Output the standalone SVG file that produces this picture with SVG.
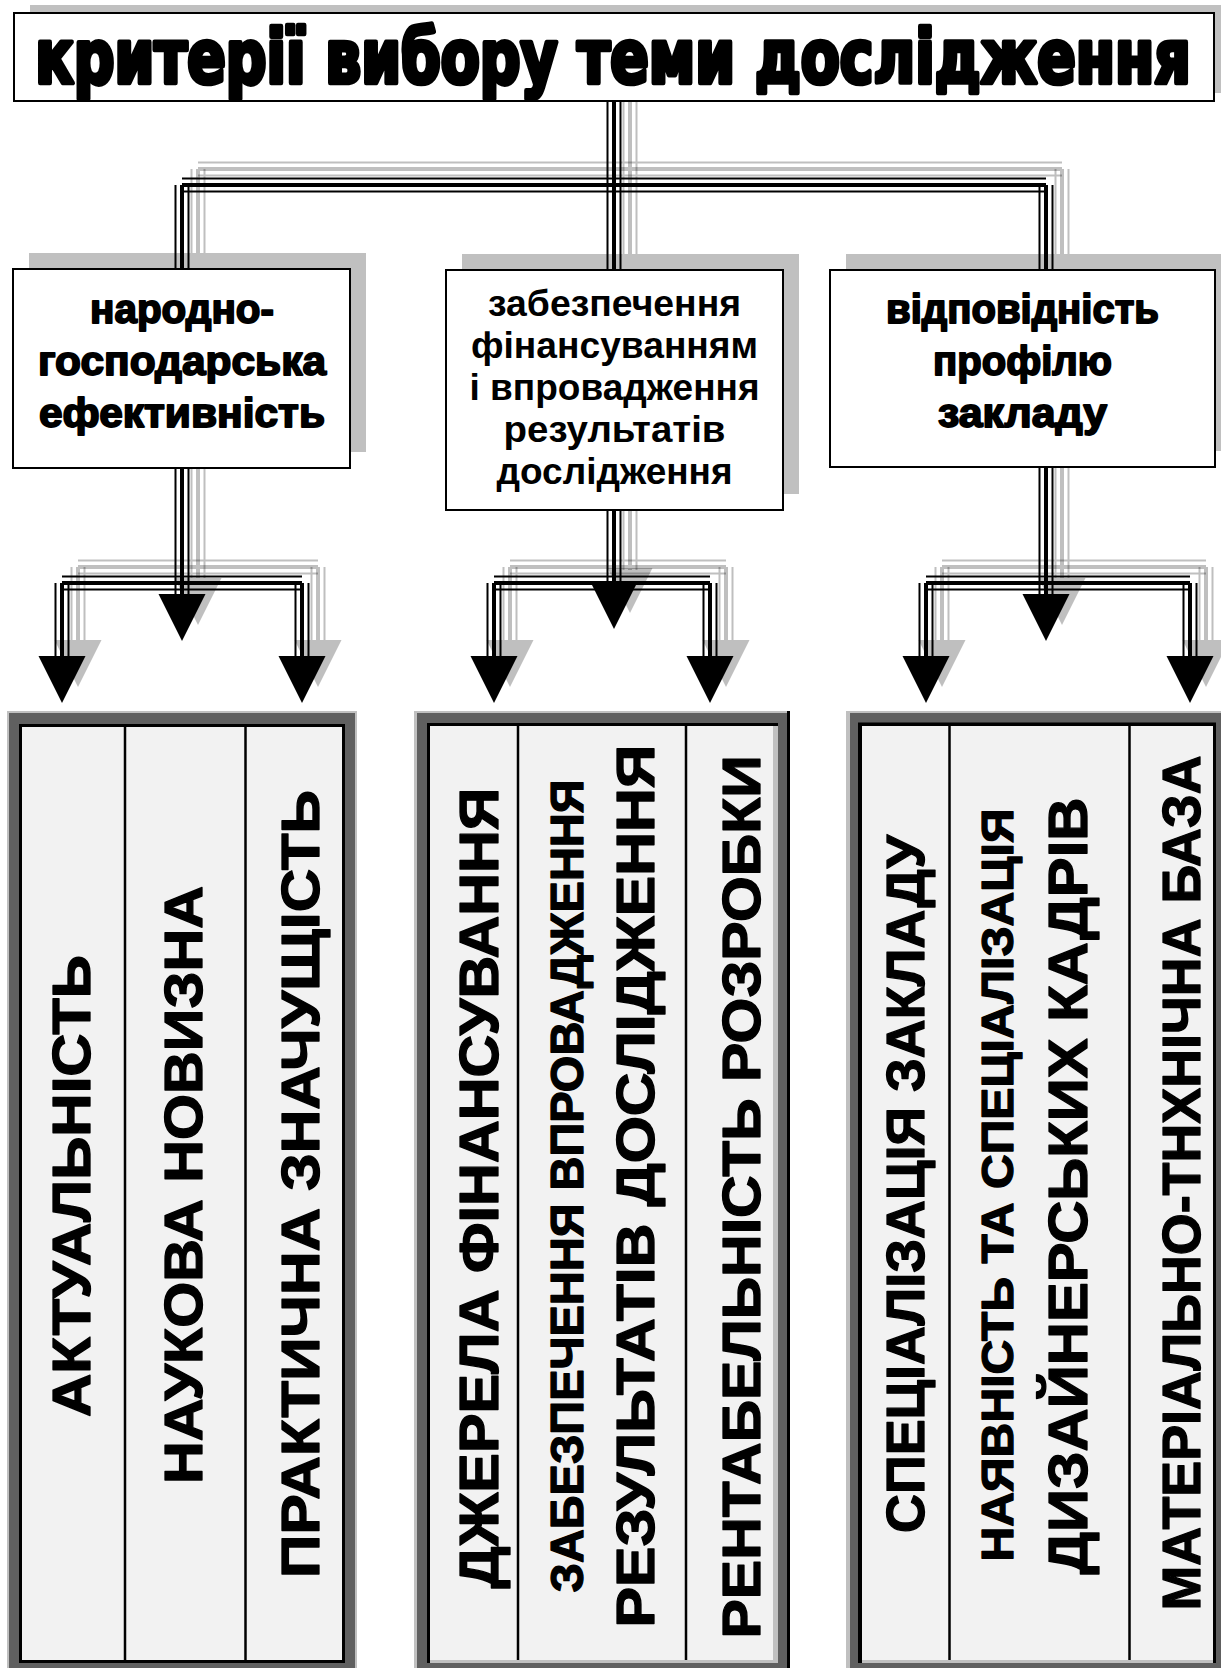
<svg xmlns="http://www.w3.org/2000/svg" xmlns:xlink="http://www.w3.org/1999/xlink" width="1221" height="1668" viewBox="0 0 1221 1668">
  <style>
    .box { fill: #fff; stroke: #000; stroke-width: 2; }
    .drop { fill: #c0c0c0; }
    .title { font-family: "DejaVu Sans", "Liberation Sans", sans-serif; font-stretch: condensed; font-weight: bold; font-size: 50px; fill: #000; stroke: #000; stroke-width: 3.2; stroke-linejoin: round; text-anchor: middle; }
    .heavy { font-family: "Liberation Sans", Arial, sans-serif; font-weight: bold; font-size: 40px; fill: #000; stroke: #000; stroke-width: 1.8; stroke-linejoin: round; text-anchor: middle; }
    .plain { font-family: "Liberation Sans", Arial, sans-serif; font-weight: bold; font-size: 36px; fill: #000; text-anchor: middle; }
    .vert { font-family: "Liberation Sans", Arial, sans-serif; font-weight: bold; fill: #000; stroke: #000; stroke-width: 1.3; stroke-linejoin: round; text-anchor: middle; }
    .light { fill: #c0c0c0; }
    .dark { fill: #606060; }
    .cell { fill: #f2f2f2; }
    .div { stroke: #000; stroke-width: 2.5; }
  </style>
  <defs>
    <!-- triple rail wiring: two thin outer rails + a thick middle rail -->
    <g id="wires" fill="none">
      <path stroke-width="2" d="M607.5 101V270M620.5 101V270M182 178.5H1046M182 191.5H1046M175.5 185V269M188.5 185V269M1039.5 185V270M1052.5 185V270M175.5 468V594M188.5 468V594M62 576.5H302M62 589.5H302M55.5 583V656M68.5 583V656M295.5 583V656M308.5 583V656M607.5 510V586M620.5 510V586M494 576.5H710M494 589.5H710M487.5 583V656M500.5 583V656M703.5 583V656M716.5 583V656M1039.5 467V594M1052.5 467V594M926 576.5H1190M926 589.5H1190M919.5 583V656M932.5 583V656M1183.5 583V656M1196.5 583V656"/>
      <path stroke-width="4" d="M614 101V270M182 185H1046M182 185V269M1046 185V270M182 468V594M62 583H302M62 583V656M302 583V656M614 510V586M494 583H710M494 583V656M710 583V656M1046 467V594M926 583H1190M926 583V656M1190 583V656"/>
    </g>
    <g id="heads">
      <polygon points="158.5,594 205.5,594 182,641"/>
      <polygon points="38.5,656 85.5,656 62,703"/>
      <polygon points="278.5,656 325.5,656 302,703"/>
      <polygon points="591.5,584 636.5,584 614,629"/>
      <polygon points="470.5,656 517.5,656 494,703"/>
      <polygon points="686.5,656 733.5,656 710,703"/>
      <polygon points="1022.5,594 1069.5,594 1046,641"/>
      <polygon points="902.5,656 949.5,656 926,703"/>
      <polygon points="1166.5,656 1213.5,656 1190,703"/>
    </g>
  </defs>

  <rect width="1221" height="1668" fill="#fff"/>

  <!-- drop shadows of the header boxes -->
  <g id="drop-shadows">
    <rect class="drop" x="30" y="5" width="1210" height="88"/>
    <rect class="drop" x="29" y="253" width="337" height="199"/>
    <rect class="drop" x="462" y="254" width="337" height="240"/>
    <rect class="drop" x="846" y="254" width="385" height="197"/>
  </g>

  <g id="connectors">
    <use xlink:href="#wires" stroke="#000" stroke-opacity="0.25" transform="translate(16,-16)"/>
    <use xlink:href="#heads" fill="#000" fill-opacity="0.25" transform="translate(16,-16)"/>
    <use xlink:href="#wires" stroke="#000"/>
    <use xlink:href="#heads" fill="#000"/>
  </g>

  <g id="title">
    <rect class="box" x="14" y="13" width="1200" height="88"/>
    <!-- tall, heavy lettering: a smaller run stretched to fill the banner -->
    <text class="title" transform="translate(613,83) scale(1.11,1.48)" textLength="1041" lengthAdjust="spacingAndGlyphs">критерії вибору теми дослідження</text>
  </g>

  <g id="economic">
    <rect class="box" x="13" y="269" width="337" height="199"/>
    <text class="heavy" x="182" y="323" textLength="184" lengthAdjust="spacingAndGlyphs">народно-</text>
    <text class="heavy" x="182" y="375" textLength="288" lengthAdjust="spacingAndGlyphs">господарська</text>
    <text class="heavy" x="182" y="427" textLength="286" lengthAdjust="spacingAndGlyphs">ефективність</text>
  </g>

  <g id="funding">
    <rect class="box" x="446" y="270" width="337" height="240"/>
    <text class="plain" x="614.5" y="316" textLength="253" lengthAdjust="spacingAndGlyphs">забезпечення</text>
    <text class="plain" x="614.5" y="358" textLength="287" lengthAdjust="spacingAndGlyphs">фінансуванням</text>
    <text class="plain" x="614.5" y="400" textLength="290" lengthAdjust="spacingAndGlyphs">і впровадження</text>
    <text class="plain" x="614.5" y="442" textLength="222" lengthAdjust="spacingAndGlyphs">результатів</text>
    <text class="plain" x="614.5" y="484" textLength="236" lengthAdjust="spacingAndGlyphs">дослідження</text>
  </g>

  <g id="profile">
    <rect class="box" x="830" y="270" width="385" height="197"/>
    <text class="heavy" x="1022.5" y="323" textLength="273" lengthAdjust="spacingAndGlyphs">відповідність</text>
    <text class="heavy" x="1022.5" y="375" textLength="179" lengthAdjust="spacingAndGlyphs">профілю</text>
    <text class="heavy" x="1022.5" y="427" textLength="169" lengthAdjust="spacingAndGlyphs">закладу</text>
  </g>

  <g id="panel-economic">
    <rect class="light" x="7" y="711" width="350" height="970"/>
    <rect class="dark" x="9" y="713" width="346" height="966"/>
    <rect class="cell" x="20.5" y="725.5" width="323" height="936" stroke="#000" stroke-width="3"/>
    <line class="div" x1="125" y1="727" x2="125" y2="1660"/>
    <line class="div" x1="245.5" y1="727" x2="245.5" y2="1660"/>
    <text class="vert" font-size="54" transform="translate(90,1186) rotate(-90)" textLength="462" lengthAdjust="spacingAndGlyphs">АКТУАЛЬНІСТЬ</text>
    <text class="vert" font-size="54" transform="translate(202,1185) rotate(-90)" textLength="598" lengthAdjust="spacingAndGlyphs">НАУКОВА НОВИЗНА</text>
    <text class="vert" font-size="54" transform="translate(319,1184) rotate(-90)" textLength="788" lengthAdjust="spacingAndGlyphs">ПРАКТИЧНА ЗНАЧУЩІСТЬ</text>
  </g>

  <g id="panel-funding">
    <rect class="light" x="414" y="711" width="376" height="970"/>
    <line x1="788.5" y1="711" x2="788.5" y2="1668" stroke="#000" stroke-width="3"/>
    <rect class="dark" x="417" y="713" width="370" height="966"/>
    <rect class="light" x="427" y="723" width="351" height="940"/>
    <path d="M428.5 1663V724.5H778" fill="none" stroke="#000" stroke-width="3"/>
    <rect class="cell" x="430" y="726" width="343" height="934"/>
    <line class="div" x1="518" y1="726" x2="518" y2="1660"/>
    <line class="div" x1="686" y1="726" x2="686" y2="1660"/>
    <text class="vert" font-size="55" transform="translate(498,1188) rotate(-90)" textLength="801" lengthAdjust="spacingAndGlyphs">ДЖЕРЕЛА ФІНАНСУВАННЯ</text>
    <text class="vert" font-size="46" transform="translate(583,1186) rotate(-90)" textLength="813" lengthAdjust="spacingAndGlyphs">ЗАБЕЗПЕЧЕННЯ ВПРОВАДЖЕННЯ</text>
    <text class="vert" font-size="54" transform="translate(654,1186) rotate(-90)" textLength="883" lengthAdjust="spacingAndGlyphs">РЕЗУЛЬТАТІВ ДОСЛІДЖЕННЯ</text>
    <text class="vert" font-size="53" transform="translate(760,1197) rotate(-90)" textLength="883" lengthAdjust="spacingAndGlyphs">РЕНТАБЕЛЬНІСТЬ РОЗРОБКИ</text>
  </g>

  <g id="panel-profile">
    <rect class="light" x="846" y="711" width="400" height="970"/>
    <rect class="dark" x="850" y="713" width="400" height="966"/>
    <rect class="light" x="858" y="723" width="358" height="940"/>
    <path d="M860 1663V724.5H1216" fill="none" stroke="#000" stroke-width="4"/>
    <line x1="1214.5" y1="723" x2="1214.5" y2="1663" stroke="#000" stroke-width="3"/>
    <rect class="cell" x="862" y="726" width="351" height="934"/>
    <line class="div" x1="949.5" y1="726" x2="949.5" y2="1660"/>
    <line class="div" x1="1129.5" y1="726" x2="1129.5" y2="1660"/>
    <text class="vert" font-size="53" transform="translate(924,1184) rotate(-90)" textLength="698" lengthAdjust="spacingAndGlyphs">СПЕЦІАЛІЗАЦІЯ ЗАКЛАДУ</text>
    <text class="vert" font-size="44" transform="translate(1013,1185) rotate(-90)" textLength="753" lengthAdjust="spacingAndGlyphs">НАЯВНІСТЬ ТА СПЕЦІАЛІЗАЦІЯ</text>
    <text class="vert" font-size="56" transform="translate(1087,1186) rotate(-90)" textLength="777" lengthAdjust="spacingAndGlyphs">ДИЗАЙНЕРСЬКИХ КАДРІВ</text>
    <text class="vert" font-size="54" transform="translate(1200,1183) rotate(-90)" textLength="855" lengthAdjust="spacingAndGlyphs">МАТЕРІАЛЬНО-ТНХНІЧНА БАЗА</text>
  </g>
</svg>
